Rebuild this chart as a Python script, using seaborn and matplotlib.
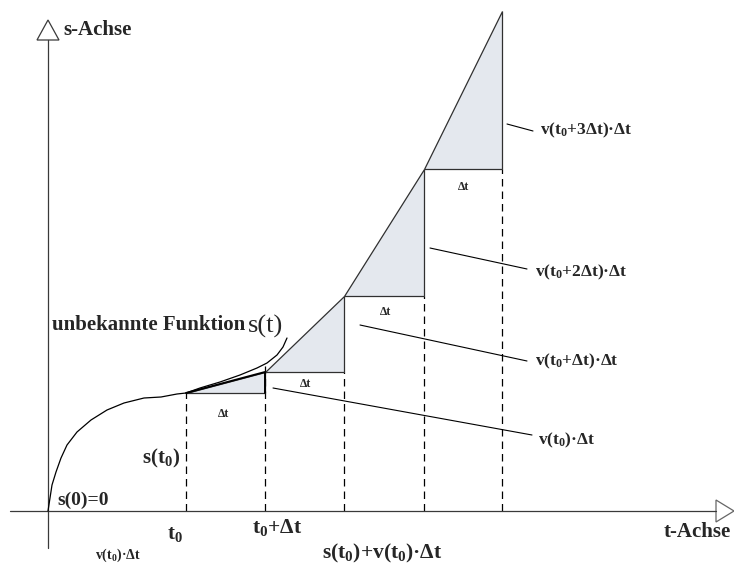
import numpy as np
import pandas as pd
import seaborn as sns
import matplotlib.pyplot as plt
from matplotlib.patches import Polygon

# unknown function s(t) (t right, s up, origin at axis crossing)
curve_t = [0, 2, 4, 8, 13, 19, 29, 43, 59, 76, 96, 113, 129, 138,
           152, 172, 192, 209, 219, 229, 235, 239]
curve_s = [0, 13, 26, 39, 53, 66, 79, 91, 101, 108, 113, 114, 117, 118,
           123, 129, 136, 143, 148, 156, 164, 173]

# step construction t0, t0+dt, ... and the s-values reached by the tangent steps
step_t = [138, 217, 296, 376, 454]
step_s = [118, 139, 215, 342, 500]

step_labels = [r'$\mathrm{v(t_0)·Δt}$', r'$\mathrm{v(t_0{+}Δt)·Δt}$',
               r'$\mathrm{v(t_0{+}2Δt)·Δt}$', r'$\mathrm{v(t_0{+}3Δt)·Δt}$']

sns.set_theme(style="white")
plt.rcParams['font.family'] = ['Liberation Serif', 'DejaVu Sans']
plt.rcParams['mathtext.fontset'] = 'custom'
plt.rcParams['mathtext.rm'] = 'Liberation Serif:bold'
plt.rcParams['mathtext.it'] = 'Liberation Serif:bold'
plt.rcParams['mathtext.bf'] = 'Liberation Serif:bold'


def P(x, y):
    # pixel position in the picture -> data coords
    return x - 48, 511 - y


fig = plt.figure(figsize=(7.34, 5.65), dpi=100)
ax = fig.add_axes([0, 0, 1, 1])
ax.set_xlim(-48, 686)
ax.set_ylim(-54, 511)
ax.axis('off')

axis_col = '#3a3a3a'
# axes with open arrow heads
ax.plot([0, 0], [-37, 471], color=axis_col, lw=0.9)
ax.plot([-38, 668], [0, 0], color=axis_col, lw=0.9)
ax.add_patch(Polygon([(-11, 471), (11, 471), (0, 491)], closed=True,
                     facecolor='white', edgecolor=axis_col, lw=0.9))
ax.add_patch(Polygon([(668, 11), (668, -11), (686, 0)], closed=True,
                     facecolor='white', edgecolor='#666666', lw=0.9, clip_on=False))

# triangles v(t)*dt
for i in range(len(step_t) - 1):
    tri = [(step_t[i], step_s[i]), (step_t[i + 1], step_s[i]), (step_t[i + 1], step_s[i + 1])]
    ax.add_patch(Polygon(tri, closed=True, facecolor='#e4e8ee',
                         edgecolor='#303030', lw=0.9, zorder=2))
# first tangent piece drawn heavier
ax.plot([step_t[0], step_t[1], step_t[1]], [step_s[0], step_s[1], step_s[0]],
        color='black', lw=1.4, zorder=3)

# dashed guides down to the t-axis
s_at_t1 = np.interp(step_t[1], curve_t, curve_s)
dash_top = [step_s[0], s_at_t1] + step_s[1:-1]
for t, top in zip(step_t, dash_top):
    ax.plot([t, t], [0, top], color='black', lw=0.9, ls=(0, (6, 4)), zorder=1)

# the curve
df = pd.DataFrame({'t': curve_t, 's': curve_s})
sns.lineplot(data=df, x='t', y='s', ax=ax, color='black', lw=0.9,
             estimator=None, sort=False, zorder=4)

# Delta t labels below each step
dt_pos = [(223, 414), (305, 384), (385, 312), (464, 187)]
for x, y in dt_pos:
    ax.text(*P(x, y), 'Δt', fontsize=8.5, fontweight='bold', ha='center', va='center')

# leader lines and labels on the right
leaders = [((273, 388), (532, 435)), ((360, 325), (527, 361)),
           ((430, 248), (527, 269)), ((507, 124), (533, 131))]
label_pos = [(538, 440), (535, 361), (535, 272), (540, 130)]
for (a, b), (lx, ly), lab in zip(leaders, label_pos, step_labels):
    ax.plot(*zip(P(*a), P(*b)), color='black', lw=0.8)
    ax.text(*P(lx, ly), lab, fontsize=12.5, ha='left', va='center')

# axis names and other text
ax.text(*P(63, 30), 's-Achse', fontsize=15, fontweight='bold', ha='left', va='center')
ax.text(*P(664, 532), 't-Achse', fontsize=15, fontweight='bold', ha='left', va='center')
ax.text(*P(52, 325), 'unbekannte Funktion', fontsize=15, fontweight='bold',
        ha='left', va='center')
ax.text(*P(248, 326), 's(t)', fontsize=19, ha='left', va='center')
ax.text(*P(57, 500), 's(0)=0', fontsize=14, fontweight='bold', ha='left', va='center')
ax.text(*P(161, 458), r'$\mathrm{s(t_0)}$', fontsize=15, ha='center', va='center')
ax.text(*P(175, 535), r'$\mathrm{t_0}$', fontsize=15, ha='center', va='center')
ax.text(*P(277, 528), r'$\mathrm{t_0{+}Δt}$', fontsize=15.5, ha='center', va='center')
ax.text(*P(382, 553), r'$\mathrm{s(t_0){+}v(t_0)·Δt}$', fontsize=15.5,
        ha='center', va='center')
ax.text(*P(118, 555), r'$\mathrm{v(t_0)·Δt}$', fontsize=10, ha='center', va='center')

fig.savefig('out.png', dpi=100)
